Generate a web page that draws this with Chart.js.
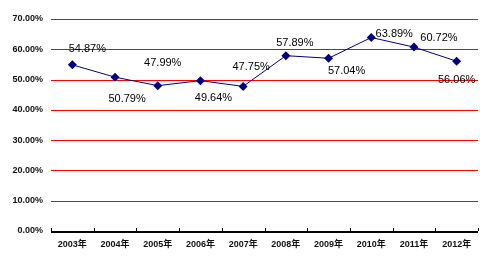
<!DOCTYPE html>
<html>
<head>
<meta charset="utf-8">
<script src="https://cdn.jsdelivr.net/npm/chart.js@4"></script>
<style>
  html, body { margin: 0; padding: 0; background: #fff; }
  canvas { display: block; }
</style>
</head>
<body>
<canvas id="myChart" width="490" height="266"></canvas>
<script>
// dados do gráfico
const years = ['2003年', '2004年', '2005年', '2006年', '2007年', '2008年', '2009年', '2010年', '2011年', '2012年'];
const rates = [54.87, 50.79, 47.99, 49.64, 47.75, 57.89, 57.04, 63.89, 60.72, 56.06];
const yMax = 70;
const yStep = 10;

// deslocamento de cada rótulo em relação ao ponto (px)
const labelOffsets = [
    [15, -16], [12, 22], [5, -23], [13, 17], [8, -19],
    [9, -13], [18, 13], [23, -4], [25, -9], [0, 19]
];

const FONT = 'Arial, "Liberation Sans", "Noto Sans CJK SC", sans-serif';

// linhas de grade vermelhas, desenhadas por baixo da série
const gridRed = {
    id: 'gridRed',
    beforeDatasetsDraw(chart) {
        const c = chart.ctx;
        const y = chart.scales.y;
        const area = chart.chartArea;
        c.save();
        c.fillStyle = 'rgb(255, 0, 0)';
        y.ticks.forEach(t => {
            if (t.value === 0) return;
            const py = Math.round(y.getPixelForValue(t.value));
            c.fillRect(area.left, py, area.right - area.left, 1);
        });
        c.restore();
    }
};

// rótulos de valor, eixo x e pequenas marcas
const extras = {
    id: 'extras',
    afterDatasetsDraw(chart) {
        const c = chart.ctx;
        const x = chart.scales.x;
        const area = chart.chartArea;
        c.save();
        c.fillStyle = '#000';
        c.fillRect(area.left, Math.round(area.bottom), area.right - area.left, 2);
        const w = x.getPixelForValue(1) - x.getPixelForValue(0);
        for (let i = 0; i <= years.length; i++) {
            const px = Math.round(x.getPixelForValue(0) - w / 2 + i * w);
            c.fillRect(px, Math.round(area.bottom) - 3, 1, 3);
        }
        // valores
        const meta = chart.getDatasetMeta(0);
        c.font = '11px ' + FONT;
        c.textAlign = 'center';
        c.textBaseline = 'middle';
        meta.data.forEach((pt, i) => {
            const off = labelOffsets[i];
            c.fillText(rates[i].toFixed(2) + '%', pt.x + off[0], pt.y + off[1]);
        });
        c.restore();
    }
};

const ctx = document.getElementById('myChart').getContext('2d');
const myChart = new Chart(ctx, {
    type: 'line',
    data: {
        labels: years,
        datasets: [{
            data: rates,
            borderColor: '#000080',
            backgroundColor: '#000080',
            borderWidth: 1,
            pointStyle: 'rectRot',
            pointRadius: 4.5,
            pointBorderWidth: 0,
            tension: 0
        }]
    },
    options: {
        responsive: false,
        animation: false,
        layout: { padding: { top: 19, right: 12, left: 0, bottom: 0 } },
        plugins: {
            legend: { display: false },
            tooltip: { enabled: false }
        },
        scales: {
            x: {
                offset: true,
                grid: { display: false, drawTicks: false },
                border: { display: false },
                ticks: {
                    padding: 8,
                    color: '#111',
                    font: { family: FONT, size: 9, weight: 'bold' },
                    maxRotation: 0
                },
                afterFit(scale) { scale.height = 35; }
            },
            y: {
                min: 0,
                max: yMax,
                grid: { display: false, drawTicks: false },
                border: { display: false },
                ticks: {
                    stepSize: yStep,
                    padding: 8,
                    color: '#111',
                    font: { family: FONT, size: 9, weight: 'bold' },
                    callback: v => v.toFixed(2) + '%'
                },
                afterFit(scale) { scale.width = 51; }
            }
        }
    },
    plugins: [gridRed, extras]
});
</script>
</body>
</html>
